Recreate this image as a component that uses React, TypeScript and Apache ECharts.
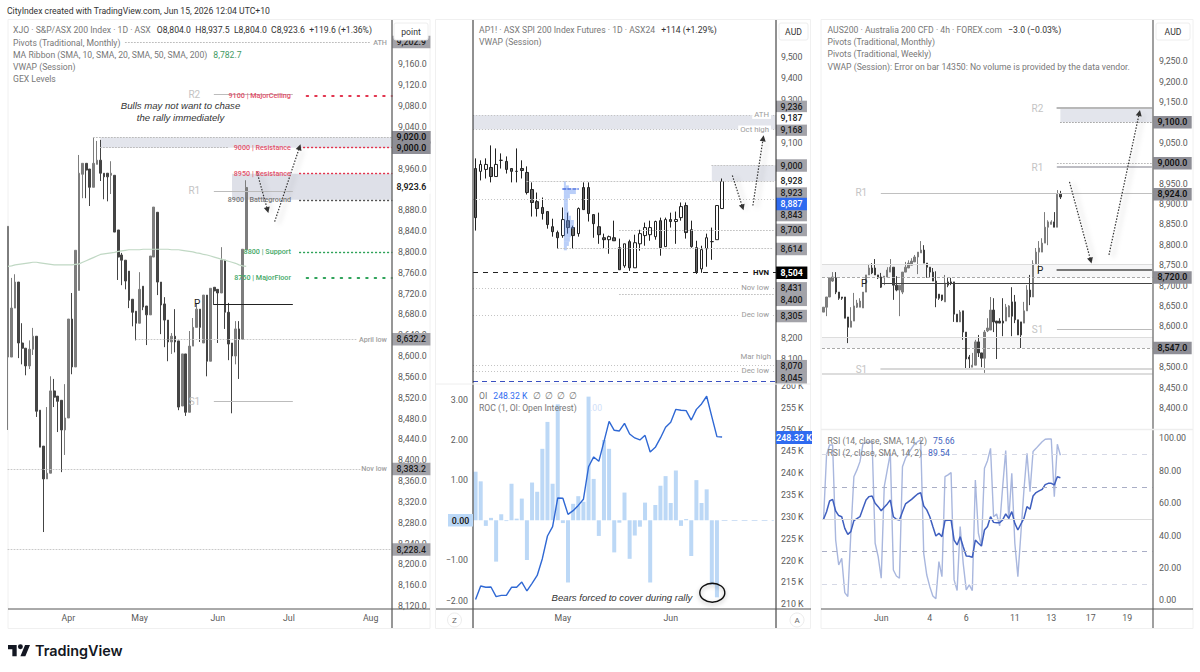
import React, { useEffect, useRef } from "react";
import * as echarts from "echarts";

// ---------- data ----------
const xjoCandles = [
[8598,8849,8458,8849],[8598,8692,8598,8750],[8692,8742,8692,8757],[8742,8625,8596,8742],[8625,8615,8584,8663],[8615,8581,8563,8615],[8581,8613,8575,8630],[8613,8638,8602,8654],[8638,8494,8483,8638],[8496,8425,8425,8496],
[8427,8364,8262,8427],[8364,8375,8364,8502],[8375,8533,8375,8561],[8533,8521,8502,8556],[8523,8513,8454,8523],[8515,8458,8377,8515],[8458,8481,8410,8546],[8481,8671,8481,8671],[8671,8579,8565,8721],[8579,8803,8579,8803],
[8726,8951,8726,8986],[8949,8970,8903,8970],[8970,8957,8903,8970],[8959,8924,8888,8959],[8924,8970,8924,9020],[8968,8976,8968,9013],[8976,8951,8936,9015],[8951,8944,8901,8951],[8951,8944,8897,8951],[8947,8951,8911,8974],
[8947,8838,8838,8947],[8842,8790,8746,8842],[8794,8784,8736,8798],[8784,8744,8728,8784],[8763,8707,8692,8763],[8709,8684,8657,8709],[8686,8663,8630,8686],[8663,8728,8663,8761],[8734,8694,8688,8734],[8696,8679,8621,8696],
[8679,8792,8679,8792],[8790,8886,8790,8886],[8876,8742,8717,8876],[8742,8698,8642,8742],[8700,8669,8617,8713],[8669,8627,8590,8669],[8627,8638,8604,8644],[8638,8627,8607,8690],[8629,8502,8496,8629],[8504,8604,8504,8604],
[8604,8492,8485,8604],[8492,8619,8492,8648],[8619,8655,8619,8673],[8655,8690,8655,8700],[8690,8655,8627,8690],[8625,8717,8625,8717],[8717,8590,8561,8717],[8590,8730,8590,8730],[8732,8725,8698,8732],[8728,8721,8625,8728],
[8721,8784,8721,8809],[8784,8684,8652,8784],[8684,8623,8592,8702],[8625,8600,8490,8625],[8600,8652,8584,8667],[8652,8632,8556,8667],[8632,8805,8632,8805],[8804,8923.6,8804,8937.5],
];
const xjoMa200 = [8772,8773,8775,8776,8777,8778,8779,8780,8780,8779,8778,8777,8776,8775,8775,8775,8775,8775,8775,8776,8777,8780,8783,8786,8789,8792,8795,8796,8797,8798,8799,8801,8802,8803,8804,8804,8804,8804,8805,8805,8805,8805,8805,8805,8805,8805,8804,8804,8804,8803,8802,8801,8800,8798,8797,8795,8794,8792,8790,8788,8786,8784,8782,8780,8778,8775,8773,8772];
const xjoTimeLabels: Record<number, string> = { 17: "Apr", 37: "May", 59: "Jun", 79: "Jul", 102: "Aug" };
const xjoHiddenTicks = [9240, 9200, 9000, 8920];
const xjoGexRed = [{ v: 9100, t: "9100 | MajorCeiling" }, { v: 9000, t: "9000 | Resistance" }, { v: 8950, t: "8950 | Resistance" }];
const xjoGexGreen = [{ v: 8800, t: "8800 | Support" }, { v: 8750, t: "8750 | MajorFloor" }];
const xjoGexGrey = [{ v: 8900, t: "8900 | Battleground" }];
const xjoPivots = [{ v: 9103, t: "R2" }, { v: 8917, t: "R1" }, { v: 8513, t: "S1" }];
const xjoPivotP = 8700;
const xjoTags = [{ v: 9202.9, t: "9,202.9" }, { v: 8632.2, t: "8,632.2" }, { v: 8383.2, t: "8,383.2" }, { v: 8228.4, t: "8,228.4" }];
const xjoDarkTags = [{ v: 9020, t: "9,020.0" }, { v: 9000, t: "9,000.0" }];
const xjoLast = { v: 8923.6, t: "8,923.6" };

const spiCandles = [
[8982,8755,8695,9029],[8969,9001,8927,9020],[8978,9001,8936,9029],[8987,8945,8918,9089],[8945,9001,8945,9075],[9020,9020,8982,9052],[9015,8978,8959,9038],[8982,8969,8918,8982],[8969,8969,8918,9075],[8982,8973,8936,9020],
[8964,8871,8862,8992],[8885,8825,8760,8918],[8829,8797,8760,8871],[8802,8774,8746,8848],[8783,8723,8704,8783],[8713,8690,8667,8750],[8686,8662,8611,8695],[8672,8746,8662,8802],[8741,8709,8681,8778],[8709,8672,8611,8718],
[8681,8797,8667,8802],[8894,8792,8792,8918],[8894,8774,8737,8918],[8769,8727,8662,8769],[8713,8676,8634,8778],[8662,8653,8611,8681],[8653,8667,8588,8672],[8662,8648,8648,8741],[8616,8514,8514,8658],[8532,8634,8523,8634],
[8644,8523,8509,8653],[8523,8639,8523,8676],[8634,8681,8602,8699],[8672,8709,8625,8732],[8676,8709,8648,8741],[8667,8737,8653,8741],[8741,8616,8579,8755],[8621,8746,8621,8755],[8746,8737,8709,8778],[8737,8746,8634,8783],
[8755,8806,8741,8825],[8811,8686,8658,8825],[8699,8621,8616,8741],[8616,8505,8495,8648],[8518,8607,8500,8625],[8611,8662,8528,8681],[8644,8644,8560,8709],[8653,8811,8653,8811],[8797,8922,8797,8936],
];
const spiTimeLabels: Record<number, string> = { 17: "May", 38: "Jun" };
const spiTickLabels = [9500, 9400, 9300, 9100, 8200, 8100];
const spiProfile = [2, 5, 12, 6, 4, 4, 4, 5, 7, 10, 10, 7, 7, 6, 5, 3];
const spiProfileTop = 8924;
const spiZones = [{ from: 9230, to: 9162 }, { from: 8997, to: 8924 }];
const spiFullDotted = [{ v: 9230, t: "ATH" }, { v: 9162, t: "Oct high" }, { v: 8841, t: "" }, { v: 8430, t: "Nov low" }, { v: 8305, t: "Dec low" }, { v: 8046, t: "Dec low" }];
const spiMarHigh = { v: 8071, t: "Mar high" };
const spiPartDotted = [{ v: 8924, from: 10 }, { v: 8997, from: 46 }, { v: 8698, from: 28 }, { v: 8615, from: 16 }, { v: 8400, from: 28 }];
const spiHvn = { v: 8502, t: "HVN" };
const spiVpoc = 8000;
const spiTags = [{ v: 9267, t: "9,236" }, { v: 9162, t: "9,168" }, { v: 8996, t: "9,000" }, { v: 8871, t: "8,923" }, { v: 8767, t: "8,843" }, { v: 8698, t: "8,700" }, { v: 8610, t: "8,614" }, { v: 8428, t: "8,431" }, { v: 8375, t: "8,400" }, { v: 8300, t: "8,305" }, { v: 8068, t: "8,070" }, { v: 8015, t: "8,045" }];
const spiPlainTags = [{ v: 9214, t: "9,187" }, { v: 8924, t: "8,928" }];
const spiBlueTag = { v: 8818, t: "8,887" };
const spiBlackTag = { v: 8500, t: "8,504" };

const rocValues = [1.21,0.97,-0.14,0.06,-1.03,0.15,-0.02,0.91,0.04,0.54,-0.99,0.94,0.71,1.78,2.45,0.91,2.89,-0.07,-1.55,0.41,0.6,0.46,3.08,1.03,-0.39,2.0,1.78,-0.8,-0.06,0.69,-0.96,-0.38,-0.16,0.44,-1.55,0.38,0.86,1.1,0.43,1.24,-0.14,0.03,-0.89,1.0,0.43,0.77,-1.61,-1.92,0];
const oiValues = [211.1,214.2,213.9,213.96,211.75,212.05,212.05,213.9,213.9,215.1,213.05,214.8,216.6,220.45,225.65,227.8,234.35,234.3,230.6,231.45,232.65,234.05,241.5,243.75,242.75,247.25,251.9,249.85,249.7,251.45,249,248.1,247.65,248.7,244.9,245.95,248.1,250.55,251.7,254.65,254.45,254.35,252.2,254.65,255.9,257.65,253,248.4,248.32];
const rocTicks = [3, 2, 1, -1, -2];

const ausCandles = [
[8635,8647,8635,8647],[8647,8672,8625,8672],[8672,8719,8672,8719],[8711,8721,8709,8733],[8719,8684,8679,8733],[8684,8669,8665,8684],[8672,8669,8665,8672],[8672,8620,8620,8672],[8623,8598,8559,8623],[8598,8613,8598,8647],
[8613,8650,8613,8682],[8647,8657,8645,8665],[8647,8662,8647,8669],[8645,8684,8645,8684],[8684,8726,8684,8726],[8726,8743,8726,8753],[8743,8731,8728,8755],[8743,8726,8726,8765],[8726,8719,8716,8726],[8721,8696,8694,8731],
[8719,8723,8701,8723],[8721,8738,8721,8745],[8733,8745,8733,8765],[8745,8701,8665,8745],[8701,8689,8686,8723],[8689,8701,8625,8701],[8684,8733,8679,8733],[8733,8745,8733,8758],[8743,8755,8743,8762],[8750,8760,8750,8767],
[8758,8770,8758,8775],[8770,8782,8728,8782],[8780,8787,8780,8809],[8787,8755,8755,8799],[8755,8745,8719,8755],[8745,8733,8721,8745],[8733,8711,8711,8743],[8711,8669,8647,8735],[8679,8669,8665,8679],[8677,8665,8662,8677],
[8660,8706,8660,8726],[8709,8701,8696,8719],[8709,8706,8701,8719],[8709,8630,8611,8709],[8630,8611,8611,8630],[8611,8635,8611,8640],[8638,8586,8567,8638],[8586,8520,8498,8586],[8525,8520,8498,8530],[8500,8505,8500,8535],
[8505,8562,8505,8567],[8562,8535,8525,8579],[8535,8522,8500,8535],[8522,8586,8486,8591],[8589,8596,8586,8620],[8591,8640,8591,8672],[8640,8611,8586,8669],[8613,8608,8520,8613],[8613,8608,8608,8620],[8613,8608,8576,8669],
[8613,8647,8613,8655],[8623,8650,8623,8652],[8660,8625,8576,8696],[8660,8616,8608,8677],[8616,8579,8579,8616],[8611,8579,8547,8611],[8608,8638,8608,8660],[8638,8689,8638,8701],[8689,8672,8652,8726],[8672,8753,8672,8762],
[8753,8782,8753,8792],[8782,8792,8731,8809],[8782,8804,8782,8816],[8804,8843,8804,8880],[8843,8856,8799,8860],[8850,8856,8850,8860],[8856,8843,8843,8880],[8843,8924,8843,8934],[8924,8917,8912,8932],
];
const ausTimeLabels: Record<number, string> = { 19: "Jun", 35: "4", 47: "6", 63: "11", 75: "13", 88: "17", 100: "19" };
const ausHiddenTicks = [9300, 9100, 9000, 8550, 8350];
const ausWeekly = [{ v: 9135, t: "R2" }, { v: 8990, t: "R1" }, { v: 8593, t: "S1" }];
const ausWeeklyP = 8738;
const ausMonthly = [{ v: 8927, t: "R1" }, { v: 8495, t: "S1" }];
const ausMonthlyP = 8706;
const ausBands = [{ from: 8753, to: 8720 }, { from: 8573, to: 8547 }];
const ausTags = [{ v: 9100, t: "9,100.0" }, { v: 9000, t: "9,000.0" }, { v: 8924, t: "8,924.0" }, { v: 8720, t: "8,720.0" }, { v: 8547, t: "8,547.0" }];
const ausExtraLines = [8486, 8482];
const rsi14 = [50,54.7,61.3,62.3,55.1,52.3,51.6,44.4,40.7,42.4,49.2,50.4,51.6,56.8,61.9,64,64.4,59.9,57.8,55.3,57.4,59.5,61.9,51.6,50,49.6,54.7,59.5,60.9,62.3,64,65.6,66.5,58.2,55.8,51.6,45.5,39.7,41.4,39.3,49.2,49.4,49.6,37.2,34.2,39.3,33.1,27.4,27.2,26.5,37.2,35.2,33.5,43.4,45.5,51.6,48.1,47.9,47.9,49.6,53.3,50.6,54.7,47.5,43.4,47.1,50.6,57.8,56.2,64.4,66.5,67.5,68.5,71.4,72.2,72.2,71.2,76.3,75.66];
const rsi2 = [49.6,89.7,95.9,95.9,37.2,21.8,25.9,4.7,2.3,41.4,76.3,80.5,85.6,96.5,97.3,97.7,97.9,35.2,27,13.6,70.2,80.5,90.7,18.7,15,13.6,82.5,87.7,90.7,93.8,96.5,97.9,99,29,15.6,8.4,2.7,1,23.9,14.6,76.3,77.4,78.8,12.6,6,45.5,22.8,6.4,9.5,6,74.3,41.4,33.5,81.5,86.2,93.8,51.6,53.3,45.9,70.2,92.4,49.6,78.4,35.2,14.6,41.4,68.1,90.7,67.1,91.8,93.8,95.9,97.9,99.4,99.6,99.6,64,96.3,89.54];

// ---------- styles / helpers ----------
const FONT = "Roboto, 'Noto Sans', sans-serif";
const TICK = "#5a5a5a";
const TICKSIZE = 8.8;
const TAGBG = "#a3a3a9";
const TAGDARK = "#8e8e96";
const ZONE = "#e3e5ec";
const CLEAR = "rgba(0,0,0,0)";
const SCALE = 0.9;
const FS = 9.6;

const indices = (n: number) => Array.from({ length: n }, (_, i) => String(i));

function labelBase(extra: any) {
  return { show: true, fontFamily: FONT, fontSize: 7.8, ...extra };
}
function full(v: number, color: string, type: any, width = 1, note?: string, noteStyle?: any) {
  return {
    yAxis: v,
    lineStyle: { color, type, width },
    label: note ? labelBase({ position: "insideEnd", formatter: note, color: "#9a9a9a", backgroundColor: "#fff", padding: [0, 2], ...noteStyle }) : { show: false },
  };
}
function seg(x0: number, x1: number, v: number, color: string, type: any, width = 1, label?: any) {
  return [
    { coord: [x0, v], lineStyle: { color, type, width, cap: "round" }, label: label ? labelBase(label) : { show: false } },
    { coord: [x1, v] },
  ];
}
function note(x0: number, x1: number, v: number, text: string, color: string) {
  return [
    { coord: [x0, v], lineStyle: { color: CLEAR }, label: labelBase({ position: "insideEnd", formatter: text, color, fontSize: 7.2, fontWeight: 500, distance: 1.5 }) },
    { coord: [x1, v] },
  ];
}
function tag(at: number, text: string, bg: string, fg = "#1d1d1d", weight: any = 500) {
  return {
    yAxis: at,
    lineStyle: { color: CLEAR },
    label: labelBase({ position: "end", distance: 0, formatter: text, backgroundColor: bg, color: fg, padding: [2, 4.5, 1.5, 4.5], fontSize: TICKSIZE, fontWeight: weight }),
  };
}
function pivotLabel(t: string, color = "#c4c4c4") {
  return { position: "start", formatter: t, color, fontSize: 10, distance: 14 };
}
function arrow(x0: number, v0: number, x1: number, v1: number) {
  const s = { color: "#333", type: [1.5, 1.5], width: 1.2, shadowBlur: 5, shadowColor: "rgba(0,0,0,0.35)", shadowOffsetX: 4, shadowOffsetY: 2 };
  return [
    { coord: [x0, v0], symbol: "none", lineStyle: s, label: { show: false } },
    { coord: [x1, v1], symbol: "triangle", symbolSize: 6, itemStyle: { color: "#333" } },
  ];
}
function zone(x0: number | null, from: number, to: number, color: string) {
  const a: any = x0 === null ? { yAxis: from } : { xAxis: x0, yAxis: from };
  return [{ ...a, itemStyle: { color } }, { yAxis: to }];
}

const markBase = { silent: true, symbol: ["none", "none"], animation: false, label: { show: false }, emphasis: { disabled: true } };

function buildXjoMarks() {
  const lines: any[] = [];
  lines.push(seg(33, 102, xjoTags[0].v, "#bdbdbd", [1, 2], 1));
  lines.push(note(90, 107, xjoTags[0].v, "ATH", "#a0a0a0"));
  lines.push(seg(24, 108, xjoDarkTags[0].v, "#bbbbbb", [1, 2], 1));
  lines.push(seg(26, 62, xjoDarkTags[1].v, "#bbbbbb", [1, 2], 1));
  xjoPivots.forEach((p) => lines.push(seg(58, 80, p.v, "#bcbcbc", "solid", 1, pivotLabel(p.t))));
  lines.push(seg(58, 80, xjoPivotP, "#222", "solid", 1, pivotLabel("P", "#222")));
  xjoGexRed.forEach((g, i) => {
    lines.push(seg(i === 0 ? 84 : 82, 108, g.v, "#e2354f", i === 0 ? [1.5, 7] : [1, 3], i === 0 ? 2 : 1.3));
    lines.push(note(55, 80, g.v, g.t, "#e2506a"));
  });
  xjoGexGreen.forEach((g, i) => {
    lines.push(seg(i === 1 ? 84 : 82, 108, g.v, "#2fa35a", i === 1 ? [1.5, 7] : [1, 3], i === 1 ? 2 : 1.3));
    lines.push(note(55, 80, g.v, g.t, "#45a868"));
  });
  xjoGexGrey.forEach((g) => {
    lines.push(seg(82, 108, g.v, "#555", [1, 3], 1.3));
    lines.push(note(55, 80, g.v, g.t, "#777"));
  });
  lines.push(seg(36, 98, xjoTags[1].v, "#c8c8c8", [1, 2], 1));
  lines.push(note(90, 107, xjoTags[1].v, "April low", "#a0a0a0"));
  lines.push(seg(0, 99, xjoTags[2].v, "#c8c8c8", [1, 2], 1));
  lines.push(note(90, 107, xjoTags[2].v, "Nov low", "#a0a0a0"));
  lines.push(seg(0, 108, xjoTags[3].v, "#c8c8c8", [1, 2], 1));
  xjoTags.forEach((t) => lines.push(tag(t.v, t.t, TAGBG)));
  xjoDarkTags.forEach((t) => lines.push(tag(t.v, t.t, TAGDARK, "#111", 600)));
  lines.push(tag(xjoLast.v, xjoLast.t, "#ffffff", "#222", 600));
  lines.push(arrow(70, 8954, 73, 8880));
  lines.push(arrow(75, 8858, 82, 9001));
  return {
    markLine: { ...markBase, data: lines },
    markArea: { silent: true, animation: false, label: { show: false }, data: [zone(26, xjoDarkTags[0].v, xjoDarkTags[1].v, ZONE), zone(63, 8950, 8900, "#dee0e8")] },
  };
}

function buildSpiMarks() {
  const lines: any[] = [];
  spiFullDotted.forEach((l) => lines.push(full(l.v, "#c4c4c4", [1, 2], 1, l.t || undefined)));
  lines.push(full(spiMarHigh.v, "#c4c4c4", [1, 2], 1, spiMarHigh.t, { position: "insideEndTop", backgroundColor: undefined, padding: 0 }));
  spiPartDotted.forEach((l) => lines.push(seg(l.from, 58, l.v, "#c4c4c4", [1, 2], 1)));
  lines.push(full(spiHvn.v, "#222", [5, 5], 1.2, spiHvn.t, { color: "#111", fontWeight: 700 }));
  lines.push(full(spiVpoc, "#3a50c0", [5, 4], 1));
  lines.push(seg(17, 20, 8890, "#4a6fe0", [3, 2], 1.5));
  spiTags.forEach((t) => lines.push(tag(t.v, t.t, TAGBG, "#1d1d1d")));
  spiPlainTags.forEach((t) => lines.push(tag(t.v, t.t, "#ffffff", "#222")));
  lines.push(tag(spiBlueTag.v, spiBlueTag.t, "#2f6bf0", "#fff"));
  lines.push(tag(spiBlackTag.v, spiBlackTag.t, "#000", "#fff", 700));
  lines.push(arrow(50, 8950, 52, 8802));
  lines.push(arrow(54, 8811, 56, 9122));
  return {
    markLine: { ...markBase, data: lines },
    markArea: { silent: true, animation: false, label: { show: false }, data: [zone(null, spiZones[0].from, spiZones[0].to, ZONE), zone(46, spiZones[1].from, spiZones[1].to, ZONE)] },
  };
}

function buildAusMarks() {
  const lines: any[] = [];
  lines.push(seg(77, 108, ausWeekly[0].v, "#b8b8b8", "solid", 2, pivotLabel(ausWeekly[0].t)));
  lines.push(seg(78, 108, 9100, "#aaa", [1, 2], 1));
  lines.push(seg(77, 108, ausWeekly[1].v, "#a8a8b0", "solid", 1.5, pivotLabel(ausWeekly[1].t)));
  lines.push(seg(77, 108, 9000, "#bbb", [1, 2], 1));
  lines.push(seg(19, 108, ausMonthly[0].v, "#c0c0c0", "solid", 1, pivotLabel(ausMonthly[0].t)));
  ausBands.forEach((b) => {
    lines.push(full(b.from, "#dddddd", "solid", 1));
    lines.push(full(b.to, "#aaaaaa", [3, 2], 1));
  });
  lines.push(seg(77, 108, ausWeeklyP, "#777", "solid", 2, pivotLabel("P", "#222")));
  lines.push(seg(19, 108, ausMonthlyP, "#444", "solid", 1.2, pivotLabel("P", "#222")));
  lines.push(seg(77, 108, ausWeekly[2].v, "#bbb", "solid", 1, pivotLabel(ausWeekly[2].t)));
  lines.push(seg(19, 108, ausMonthly[1].v, "#d8d8d8", "solid", 2, pivotLabel(ausMonthly[1].t)));
  ausExtraLines.forEach((v) => lines.push(full(v, "#dddddd", "solid", 1)));
  ausTags.forEach((t) => lines.push(tag(t.v, t.t, TAGDARK, "#111", 600)));
  lines.push(arrow(81, 8954, 88, 8761));
  lines.push(arrow(94, 8775, 104, 9123));
  return {
    markLine: { ...markBase, data: lines },
    markArea: {
      silent: true, animation: false, label: { show: false },
      data: [zone(78, 9135, 9100, ZONE), zone(null, ausBands[0].from, ausBands[0].to, "#f6f6f7"), zone(null, ausBands[1].from, ausBands[1].to, "#f6f6f7")],
    },
  };
}

function txt(text: string, x: number, y: number, extra: any = {}, scaleX = SCALE) {
  return { type: "text", x, y, scaleX, z: 50, silent: true, style: { text, fill: "#666", font: `${FS}px ${FONT}`, verticalAlign: "middle", ...extra } };
}
function rich(x: number, y: number, text: string, styles: any) {
  return { type: "text", x, y, scaleX: SCALE, z: 50, silent: true, style: { text, verticalAlign: "middle", rich: styles } };
}
const R = (fill: string, weight: any = 400, size = FS) => ({ fill, fontFamily: FONT, fontSize: size, fontWeight: weight });
function vline(x: number, y1: number, y2: number, stroke: string, lineWidth = 1) {
  return { type: "line", z: 40, silent: true, shape: { x1: x, y1, x2: x, y2 }, style: { stroke, lineWidth } };
}
function hline(y: number, x1: number, x2: number, stroke: string, lineWidth = 1) {
  return { type: "line", z: 40, silent: true, shape: { x1, y1: y, x2, y2: y }, style: { stroke, lineWidth } };
}
function unitBox(x: number, w: number, label: string) {
  return [
    { type: "rect", z: 45, silent: true, shape: { x, y: 23, width: w, height: 17, r: 2 }, style: { fill: "#fff", stroke: "#eeeeee" } },
    txt(label, x + w / 2, 32, { align: "center", fill: "#333", font: `${FS}px ${FONT}` }),
  ];
}
function roundBtn(x: number, y: number, t: string) {
  return [
    { type: "circle", z: 45, silent: true, shape: { cx: x, cy: y, r: 7 }, style: { fill: "#fff", stroke: "#ececec" } },
    txt(t, x, y, { align: "center", fill: "#666", font: `8px ${FONT}` }, 1),
  ];
}
function frame(x: number, w: number) {
  return { type: "rect", z: 1, silent: true, shape: { x, y: 19.5, width: w, height: 609 }, style: { fill: "none", stroke: "#f0f0f0" } };
}

echarts.graphic.registerShape("tvlogo", echarts.graphic.extendPath("M14 22H7V11H0V4h14v18zM28 22h-8l7.5-18h8L28 22zM24 7a4 4 0 1 1-8 0a4 4 0 1 1 8 0z", {}) as any);

function buildGraphics() {
  const italic = `italic 9.6px 'Liberation Sans', sans-serif`;
  const g: any[] = [
    frame(8, 422), frame(435.5, 375), frame(821, 372),
    vline(392, 20, 628, "#6b6b6b", 1.4), hline(609, 8, 430, "#555", 1),
    vline(473, 20, 628, "#222", 1), vline(776, 20, 628, "#222", 1), hline(384, 436, 811, "#eeeeee", 1), hline(609, 436, 811, "#555", 1),
    vline(1153, 20, 628, "#888", 1.6), hline(429.5, 821, 1193, "#eeeeee", 1.5), hline(609, 821, 1193, "#555", 1),
    ...unitBox(394, 34, "point"), ...unitBox(779, 29, "AUD"), ...unitBox(1156, 34, "AUD"),
    ...roundBtn(454.5, 620, "Z"), ...roundBtn(797, 620, "A"),
    txt("CityIndex created with TradingView.com, Jun 15, 2026 12:04 UTC+10", 7, 10.5, { fill: "#333" }),
    { type: "tvlogo", x: 8, y: 642.5, scaleX: 0.62, scaleY: 0.62, z: 50, silent: true, style: { fill: "#131722" } },
    txt("TradingView", 35, 650.5, { fill: "#131722", font: `600 14.4px Inter, ${FONT}` }, 1),

    rich(13, 30, "{g|XJO · S&P/ASX 200 Index · 1D · ASX}  {d|O8,804.0  H8,937.5  L8,804.0  C8,923.6  +119.6 (+1.36%)}", { g: R("#777"), d: R("#333") }),
    txt("Pivots (Traditional, Monthly)", 13, 42.5, { fill: "#777" }),
    rich(13, 54.5, "{g|MA Ribbon (SMA, 10, SMA, 20, SMA, 50, SMA, 200)}  {v|8,782.7}", { g: R("#777"), v: R("#3f9a63") }),
    txt("VWAP (Session)", 13, 66.5, { fill: "#777" }),
    txt("GEX Levels", 13, 79, { fill: "#777" }),
    txt("Bulls may not want to chase", 180.5, 105.5, { align: "center", fill: "#333", font: italic }, 1),
    txt("the rally immediately", 180.5, 117, { align: "center", fill: "#333", font: italic }, 1),

    rich(479, 30, "{g|AP1! · ASX SPI 200 Index Futures · 1D · ASX24}  {d|+114 (+1.29%)}", { g: R("#777"), d: R("#333") }),
    txt("VWAP (Session)", 479, 42, { fill: "#777" }),
    rich(479, 396, "{g|OI}  {b|248.32 K}  {g|∅  ∅  ∅  ∅}", { g: R("#777"), b: R("#2f6bf0") }),
    txt("ROC (1, OI: Open Interest)", 479, 408, { fill: "#777" }),
    txt(".00", 590, 408, { fill: "#cfe0f8" }),
    txt("Bears forced to cover during rally", 622, 597, { align: "center", fill: "#333", font: italic }, 1),
    { type: "ellipse", z: 45, silent: true, shape: { cx: 712.3, cy: 592.7, rx: 12.5, ry: 9.5 }, style: { fill: "none", stroke: "#111", lineWidth: 1.4, shadowBlur: 4, shadowColor: "rgba(0,0,0,0.3)", shadowOffsetY: 2 } },
    { type: "rect", z: 45, silent: true, shape: { x: 448, y: 514, width: 25, height: 12.5 }, style: { fill: "#bbd8f7" } },
    txt("0.00", 460.5, 520.5, { align: "center", fill: "#222", font: `600 ${TICKSIZE}px ${FONT}` }, 1),
    { type: "rect", z: 45, silent: true, shape: { x: 776, y: 431, width: 36, height: 13 }, style: { fill: "#2f6bf0" } },
    txt("248.32 K", 794, 437.5, { align: "center", fill: "#fff", font: `600 ${TICKSIZE}px ${FONT}` }, 1),

    rich(827.5, 30, "{g|AUS200 · Australia 200 CFD · 4h · FOREX.com}  {d|−3.0 (−0.03%)}", { g: R("#777"), d: R("#333") }),
    txt("Pivots (Traditional, Monthly)", 827.5, 42, { fill: "#777" }),
    txt("Pivots (Traditional, Weekly)", 827.5, 54, { fill: "#777" }),
    txt("VWAP (Session): Error on bar 14350: No volume is provided by the data vendor.", 827.5, 66.5, { fill: "#777" }),
    rich(827.5, 441, "{g|RSI (14, close, SMA, 14, 2)}  {b|75.66}", { g: R("#777"), b: R("#3f63c0") }),
    rich(827.5, 453, "{g|RSI (2, close, SMA, 14, 2)}  {b|89.54}", { g: R("#777"), b: R("#3f63c0") }),
  ];
  return g;
}

function fmt(v: number, d: number) {
  return v.toLocaleString("en-US", { minimumFractionDigits: d, maximumFractionDigits: d });
}

function buildOption(): any {
  const axisOff = { axisLine: { show: false }, axisTick: { show: false }, splitLine: { show: false } };
  const xAxis = (gridIndex: number, n: number, labels: Record<number, string> | null, boundaryGap: boolean, margin = 8) => ({
    type: "category", gridIndex, data: indices(n), boundaryGap, ...axisOff,
    axisLabel: labels
      ? { show: true, interval: 0, margin, color: TICK, fontFamily: FONT, fontSize: TICKSIZE, hideOverlap: false, formatter: (_: string, i: number) => labels[i] ?? "" }
      : { show: false },
  });
  const yLab = (formatter: (v: number) => string, margin = 6) => ({ show: true, margin, color: TICK, fontFamily: FONT, fontSize: TICKSIZE, formatter });
  const candleStyle = (up: string, down: string, bu: string, bd: string, bw = 1) => ({ color: up, color0: down, borderColor: bu, borderColor0: bd, borderWidth: bw });

  return {
    animation: false,
    backgroundColor: "#ffffff",
    graphic: { elements: buildGraphics() },
    grid: [
      { left: 8, top: 22.7, width: 384, height: 583.3, show: false },
      { left: 473, top: 34.9, width: 303, height: 346, show: false },
      { left: 473, top: 389.8, width: 303, height: 220.8, show: false },
      { left: 473, top: 386, width: 303, height: 218.3, show: false },
      { left: 822, top: 40.7, width: 331, height: 387.7, show: false },
      { left: 822, top: 438.3, width: 331, height: 162, show: false },
    ],
    xAxis: [
      xAxis(0, 109, xjoTimeLabels, false, 7),
      xAxis(1, 59, null, true),
      xAxis(2, 59, spiTimeLabels, true, 3),
      xAxis(3, 59, null, true),
      xAxis(4, 109, null, true),
      xAxis(5, 109, ausTimeLabels, true, 13),
    ],
    yAxis: [
      { type: "value", gridIndex: 0, position: "right", min: 8120, max: 9240, interval: 40, ...axisOff, axisLabel: yLab((v) => (xjoHiddenTicks.includes(v) ? "" : fmt(v, 1))) },
      { type: "value", gridIndex: 1, position: "right", min: 8000, max: 9600, interval: 100, ...axisOff, axisLabel: yLab((v) => (spiTickLabels.includes(v) ? fmt(v, 0) : ""), 5) },
      { type: "value", gridIndex: 2, position: "left", min: -2.25, max: 3.25, interval: 0.25, ...axisOff, axisLabel: yLab((v) => (rocTicks.includes(v) ? fmt(v, 2).replace("-", "\u2212") : ""), 5) },
      { type: "value", gridIndex: 3, position: "right", min: 210, max: 260, interval: 5, ...axisOff, axisLabel: yLab((v) => `${v} K`, 5) },
      { type: "value", gridIndex: 4, position: "right", min: 8350, max: 9300, interval: 50, ...axisOff, axisLabel: yLab((v) => (ausHiddenTicks.includes(v) ? "" : fmt(v, 1))) },
      { type: "value", gridIndex: 5, position: "right", min: 0, max: 100, interval: 20, ...axisOff, axisLabel: yLab((v) => fmt(v, 2)) },
    ],
    series: [
      { type: "candlestick", name: "XJO", xAxisIndex: 0, yAxisIndex: 0, data: xjoCandles, barWidth: 2.2, z: 3, itemStyle: candleStyle("#7d7d7d", "#444444", "#7d7d7d", "#444444"), ...buildXjoMarks() },
      { type: "line", name: "MA", xAxisIndex: 0, yAxisIndex: 0, data: xjoMa200, symbol: "none", z: 4, lineStyle: { color: "#c0d8c4", width: 1.2 } },
      { type: "candlestick", name: "SPI", xAxisIndex: 1, yAxisIndex: 1, data: spiCandles, barWidth: 3, z: 3, itemStyle: candleStyle("#ffffff", "#666666", "#222222", "#222222"), ...buildSpiMarks() },
      {
        type: "custom", name: "Profile", xAxisIndex: 1, yAxisIndex: 1, z: 4,
        data: spiProfile.map((w, i) => [17, spiProfileTop - i * 20 - 10, w]),
        encode: { x: 0, y: 1 },
        renderItem: (_: any, api: any) => {
          const p = api.coord([api.value(0), api.value(1)]);
          const h = api.size([0, 20])[1];
          return { type: "rect", shape: { x: p[0] + 1, y: p[1] - h / 2, width: api.value(2), height: h }, style: { fill: "rgba(90,140,240,0.42)" } };
        },
      },
      {
        type: "bar", name: "ROC", xAxisIndex: 2, yAxisIndex: 2, data: rocValues, barWidth: 4, z: 2, itemStyle: { color: "#bcd8f6" },
        markLine: { ...markBase, data: [seg(48, 58, 0, "#cfe0f5", [5, 5], 1)] },
      },
      { type: "line", name: "OI", xAxisIndex: 3, yAxisIndex: 3, data: oiValues, symbol: "none", z: 4, lineStyle: { color: "#2f68d4", width: 1.4 } },
      { type: "candlestick", name: "AUS200", xAxisIndex: 4, yAxisIndex: 4, data: ausCandles, barWidth: 1.8, z: 3, itemStyle: candleStyle("#7d7d7d", "#3d3d3d", "#7d7d7d", "#3d3d3d"), ...buildAusMarks() },
      {
        type: "line", name: "RSI 2", xAxisIndex: 5, yAxisIndex: 5, data: rsi2, symbol: "none", z: 3, lineStyle: { color: "#a9b7de", width: 1.4 },
        markLine: {
          ...markBase,
          data: [full(90, "#d6d9e6", [5, 5]), full(70, "#a9aec6", [5, 5]), full(50, "#dcdcdc", "solid"), full(30, "#a9aec6", [5, 5]), full(10, "#d6d9e6", [5, 5])],
        },
      },
      { type: "line", name: "RSI 14", xAxisIndex: 5, yAxisIndex: 5, data: rsi14, symbol: "none", z: 4, lineStyle: { color: "#3f5fbf", width: 1.5 } },
    ],
  };
}

export default function App() {
  const ref = useRef<HTMLDivElement | null>(null);
  useEffect(() => {
    if (!ref.current) return;
    const chart = echarts.init(ref.current, undefined, { renderer: "svg" });
    chart.setOption(buildOption());
    return () => chart.dispose();
  }, []);
  return <div ref={ref} style={{ position: "absolute", left: 0, top: 0, width: 1200, height: 672 }} />;
}
